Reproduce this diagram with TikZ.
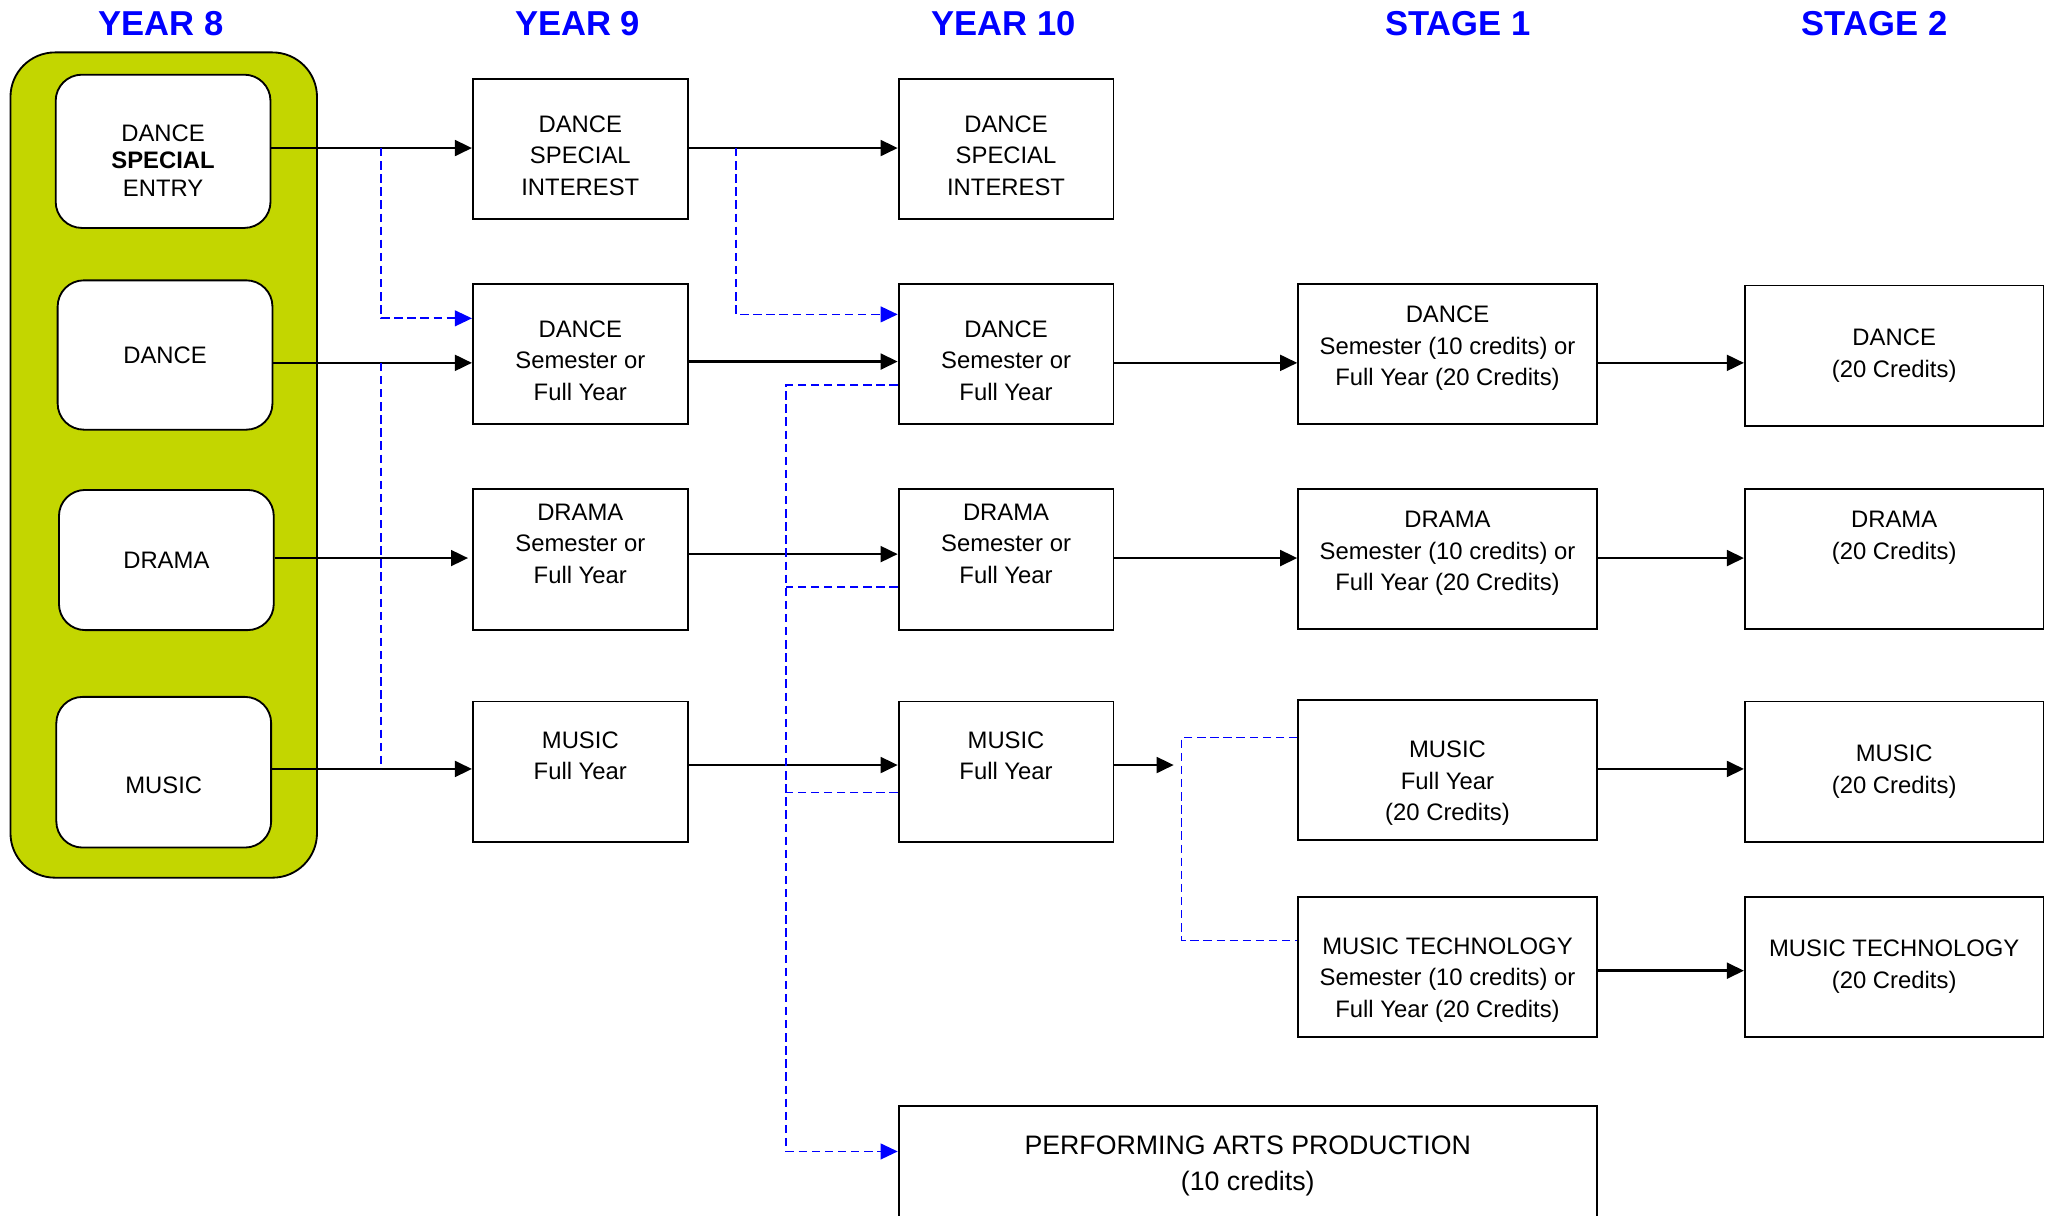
\documentclass[tikz,border=0pt]{standalone}
\usepackage{fontspec}
\setmainfont{Liberation Sans}
\usetikzlibrary{arrows.meta, positioning}

\definecolor{panelgreen}{RGB}{195,214,0}
\definecolor{pathblue}{RGB}{0,0,255}

\begin{document}
\begin{tikzpicture}[
            x=0.5pt, y=-0.5pt,
            every node/.style={font=\fontsize{9.1}{12}\selectfont},
            yearhead/.style={text=pathblue, font=\fontsize{13.2}{15}\selectfont\bfseries},
            panel/.style={draw=black, line width=0.7pt, fill=panelgreen, rounded corners=17pt,
                minimum width=117pt, minimum height=315pt},
            entrybox/.style={draw=black, line width=0.7pt, fill=white, rounded corners=10pt,
                align=center, minimum width=82pt, inner sep=0pt},
            coursebox/.style={draw=black, line width=0.7pt, fill=white, align=center,
                minimum width=82pt, minimum height=53.5pt, inner sep=0pt},
            widebox/.style={coursebox, minimum width=114pt},
            flow/.style={line width=1pt, -{Triangle[length=6.5pt, width=6pt]}},
            option/.style={pathblue, line width=0.65pt, dash pattern=on 3.2pt off 1.8pt},
            optionflow/.style={option, -{Triangle[length=6.5pt, width=6pt]}}
        ]
        \useasboundingbox (0,0) rectangle (1568,928);

        % column heads
        \node[yearhead] (head8) at (123,18) {YEAR 8};
        \node[yearhead] (head9) at (441,18) {YEAR 9};
        \node[yearhead] (head10) at (766,18) {YEAR 10};
        \node[yearhead] (headS1) at (1113,18) {STAGE 1};
        \node[yearhead] (headS2) at (1431,18) {STAGE 2};

        % year 8 entry
        \node[panel] (yeareight) at (125,355) {};
        \node[entrybox, minimum height=58.5pt, font=\fontsize{9.1}{10.4}\selectfont]
            (e8special) at (124.5,115.5) {\mbox{}\\[3.1pt]DANCE\\\textbf{SPECIAL}\\ENTRY};
        \node[entrybox, minimum height=57pt] (e8dance) at (126,271) {DANCE};
        \node[entrybox, minimum height=53.5pt] (e8drama) at (127,427.5) {DRAMA};
        \node[entrybox, minimum height=57.5pt] (e8music) at (125,589.5) {\mbox{}\\[4pt]MUSIC};

        % year 9
        \def\xcol{443}
        \node[coursebox] (y9special) at (\xcol,113.5) {\mbox{}\\[-0.5pt]DANCE\\SPECIAL\\INTEREST};
        \node[coursebox] (y9dance) at (\xcol,270) {\mbox{}\\[-0.5pt]DANCE\\Semester or\\Full Year};
        \node[coursebox, minimum height=54pt] (y9drama) at (\xcol,427) {DRAMA\\Semester or\\Full Year\\\mbox{}};
        \node[coursebox] (y9music) at (\xcol,589) {MUSIC\\Full Year\\\mbox{}};

        % year 10
        \def\xcol{768}
        \node[coursebox] (y10special) at (\xcol,113.5) {\mbox{}\\[-0.5pt]DANCE\\SPECIAL\\INTEREST};
        \node[coursebox] (y10dance) at (\xcol,270) {\mbox{}\\[-0.5pt]DANCE\\Semester or\\Full Year};
        \node[coursebox, minimum height=54pt] (y10drama) at (\xcol,427) {DRAMA\\Semester or\\Full Year\\\mbox{}};
        \node[coursebox] (y10music) at (\xcol,589) {MUSIC\\Full Year\\\mbox{}};
        \node[coursebox, minimum width=266.5pt, minimum height=46pt, font=\fontsize{10.2}{13.5}\selectfont]
            (production) at (952.5,890) {PERFORMING ARTS PRODUCTION\\(10 credits)};

        % stage 1
        \def\xcol{1105}
        \node[widebox] (s1dance) at (\xcol,270) {DANCE\\Semester (10 credits) or\\Full Year (20 Credits)\\[-6.1pt]\mbox{}};
        \node[widebox] (s1drama) at (\xcol,426.5) {DRAMA\\Semester (10 credits) or\\Full Year (20 Credits)\\[-6.1pt]\mbox{}};
        \node[widebox] (s1music) at (\xcol,588) {\mbox{}\\[4.5pt]MUSIC\\Full Year\\(20 Credits)};
        \node[widebox] (s1tech) at (\xcol,738) {\mbox{}\\[4.5pt]MUSIC TECHNOLOGY\\Semester (10 credits) or\\Full Year (20 Credits)};

        % stage 2
        \def\xcol{1446}
        \node[widebox] (s2dance) at (\xcol,271.5) {DANCE\\(20 Credits)};
        \node[widebox] (s2drama) at (\xcol,426.5) {DRAMA\\(20 Credits)\\[6pt]\mbox{}};
        \node[widebox] (s2music) at (\xcol,589) {MUSIC\\(20 Credits)};
        \node[widebox] (s2tech) at (\xcol,738) {MUSIC TECHNOLOGY\\(20 Credits)};

        % main routes
        \draw[flow] (e8special.east |- 0,113) -- (y9special.west |- 0,113);
        \draw[flow] (y9special.east |- 0,113) -- (y10special.west |- 0,113);

        \draw[flow] (e8dance.east |- 0,277) -- (y9dance.west |- 0,277);
        \draw[flow] (y9dance.east |- 0,276) -- (y10dance.west |- 0,276);
        \draw[flow] (y10dance.east |- 0,277) -- (s1dance.west |- 0,277);
        \draw[flow] (s1dance.east |- 0,277) -- (s2dance.west |- 0,277);

        \draw[flow, shorten >=1.5pt] (e8drama.east |- 0,426) -- (y9drama.west |- 0,426);
        \draw[flow] (y9drama.east |- 0,423) -- (y10drama.west |- 0,423);
        \draw[flow] (y10drama.east |- 0,426) -- (s1drama.west |- 0,426);
        \draw[flow] (s1drama.east |- 0,426) -- (s2drama.west |- 0,426);

        \coordinate (musicfork) at (896,584);
        \draw[flow] (e8music.east |- 0,587) -- (y9music.west |- 0,587);
        \draw[flow] (y9music.east |- 0,584) -- (y10music.west |- 0,584);
        \draw[flow] (y10music.east |- 0,584) -- (musicfork);
        \draw[flow] (s1music.east |- 0,587) -- (s2music.west |- 0,587);
        \draw[flow] (s1tech.east |- 0,741) -- (s2tech.west |- 0,741);

        % optional routes
        \coordinate (split9) at (291,113);
        \coordinate (split10) at (562,113);
        \coordinate (prodturn) at (600,879);
        \coordinate (techturn) at (902,718);

        \draw[optionflow] (split9) |- (y9dance.west |- 0,243);
        \draw[option] (split9 |- 0,277) -- (split9 |- 0,587);
        \draw[optionflow] (split10) |- (y10dance.west |- 0,240);

        \draw[optionflow] (y10dance.west |- 0,294) -| (prodturn) -- (production.west |- prodturn);
        \draw[option] (y10drama.west |- 0,448) -- (prodturn |- 0,448);
        \draw[option] (y10music.west |- 0,605) -- (prodturn |- 0,605);

        \draw[option] (s1music.west |- 0,563) -| (techturn) -- (s1tech.west |- techturn);
    \end{tikzpicture}
\end{document}
